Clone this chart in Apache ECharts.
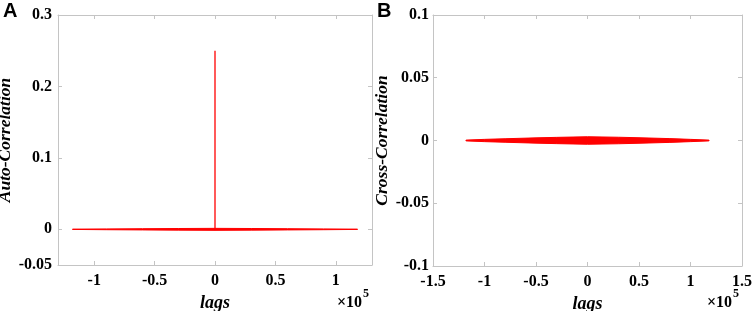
<!DOCTYPE html>
<html>
<head>
<meta charset="utf-8">
<script src="https://cdn.jsdelivr.net/npm/echarts@6/dist/echarts.min.js"></script>
<style>html,body{margin:0;padding:0;background:#fff}#c{width:754px;height:311px}</style>
</head>
<body>
<div id="c"></div>
<script>
// ---- Panel A: auto-correlation ----
const lagTicksA = [-100000, -50000, 0, 50000, 100000];
const yTicksA = [-0.05, 0, 0.1, 0.2, 0.3];
const spikeLags = [0, 0];
const spikeValues = [0, 0.25];
const envLagsA = [-118000, -90000, -60000, -30000, 0, 30000, 60000, 90000, 118000];
const envUpperA = [0.0002, 0.0005, 0.0008, 0.0011, 0.0013, 0.0011, 0.0008, 0.0005, 0.0002];
const envLowerA = [-0.0002, -0.0006, -0.0009, -0.0012, -0.0015, -0.0012, -0.0009, -0.0006, -0.0002];

// ---- Panel B: cross-correlation ----
const lagTicksB = [-150000, -100000, -50000, 0, 50000, 100000, 150000];
const yTicksB = [-0.1, -0.05, 0, 0.05, 0.1];
const envLagsB = [-118000, -100000, -80000, -50000, -30000, 0, 30000, 50000, 80000, 100000, 118000];
const envUpperB = [0.0003, 0.0009, 0.0014, 0.0021, 0.0025, 0.0030, 0.0026, 0.0022, 0.0015, 0.0009, 0.0003];
const envLowerB = [-0.0003, -0.0009, -0.0014, -0.0021, -0.0025, -0.0030, -0.0026, -0.0022, -0.0015, -0.0009, -0.0003];

const RED = '#ff0000';
const BOX = '#c4c4c4';
const labelFont = {color: '#000', fontFamily: 'Liberation Serif', fontWeight: 'bold', fontSize: 16};
const nameFontX = {color: '#000', fontFamily: 'Liberation Serif', fontWeight: 'bold', fontStyle: 'italic', fontSize: 18};
const nameFontY = {color: '#000', fontFamily: 'Liberation Serif', fontWeight: 'bold', fontStyle: 'italic', fontSize: 17.5};

function fmtLag(v) { return String(Math.round(v / 1000) / 100); }
function fmtY(v) { return String(Math.round(v * 1000) / 1000); }

function xAxes(gi, min, max, ticks) {
  return [
    {type: 'value', gridIndex: gi, position: 'bottom', min: min, max: max,
     name: 'lags', nameLocation: 'middle', nameGap: 21, nameTextStyle: nameFontX,
     axisLine: {show: true, onZero: false, lineStyle: {color: BOX, width: 1}},
     axisTick: {show: true, inside: true, length: 4, customValues: ticks, lineStyle: {color: BOX}},
     axisLabel: {show: true, margin: 8, customValues: ticks, formatter: fmtLag, ...labelFont},
     splitLine: {show: false}},
    {type: 'value', gridIndex: gi, position: 'top', min: min, max: max,
     axisLine: {show: true, onZero: false, lineStyle: {color: BOX, width: 1}},
     axisTick: {show: true, inside: true, length: 4, customValues: ticks, lineStyle: {color: BOX}},
     axisLabel: {show: false}, splitLine: {show: false}}
  ];
}
function yAxes(gi, min, max, ticks, name, gap, margin) {
  return [
    {type: 'value', gridIndex: gi, position: 'left', min: min, max: max,
     name: name, nameLocation: 'middle', nameGap: gap, nameTextStyle: nameFontY,
     axisLine: {show: true, onZero: false, lineStyle: {color: BOX, width: 1}},
     axisTick: {show: true, inside: true, length: 4, customValues: ticks, lineStyle: {color: BOX}},
     axisLabel: {show: true, margin: margin, customValues: ticks, formatter: fmtY, ...labelFont},
     splitLine: {show: false}},
    {type: 'value', gridIndex: gi, position: 'right', min: min, max: max,
     axisLine: {show: true, onZero: false, lineStyle: {color: BOX, width: 1}},
     axisTick: {show: true, inside: true, length: 4, customValues: ticks, lineStyle: {color: BOX}},
     axisLabel: {show: false}, splitLine: {show: false}}
  ];
}

function bandSeries(xi, yi, lags, up, lo) {
  return {
    type: 'custom', xAxisIndex: xi, yAxisIndex: yi, clip: true,
    data: [[lags[0], up[0]]],
    renderItem: function (params, api) {
      const pts = [];
      for (let i = 0; i < lags.length; i++) pts.push(api.coord([lags[i], up[i]]));
      for (let i = lags.length - 1; i >= 0; i--) pts.push(api.coord([lags[i], lo[i]]));
      return {type: 'polygon', shape: {points: pts},
              style: {fill: RED, stroke: RED, lineWidth: 1}};
    },
    silent: true
  };
}

const option = {
  backgroundColor: '#fff',
  animation: false,
  color: [RED],
  grid: [
    {left: 58, right: 382, top: 15, bottom: 46, containLabel: false, outerBoundsMode: 'none'},
    {left: 433, right: 12, top: 15, bottom: 45, containLabel: false, outerBoundsMode: 'none'}
  ],
  xAxis: [...xAxes(0, -130000, 130000, lagTicksA), ...xAxes(1, -150000, 150000, lagTicksB)],
  yAxis: [...yAxes(0, -0.05, 0.3, yTicksA, 'Auto-Correlation', 36, 6),
          ...yAxes(1, -0.1, 0.1, yTicksB, 'Cross-Correlation', 38, 4)],
  series: [
    bandSeries(0, 0, envLagsA, envUpperA, envLowerA),
    {type: 'line', xAxisIndex: 0, yAxisIndex: 0, showSymbol: false, symbol: 'none',
     color: RED, itemStyle: {color: RED},
     data: spikeLags.map((x, i) => [x, spikeValues[i]]),
     lineStyle: {color: RED, width: 1.3}, silent: true},
    bandSeries(2, 2, envLagsB, envUpperB, envLowerB)
  ],
  graphic: [
    {type: 'text', left: 3, top: 1, style: {text: 'A', font: 'bold 20px "Liberation Sans"', fill: '#000'}},
    {type: 'text', left: 377, top: 1, style: {text: 'B', font: 'bold 20px "Liberation Sans"', fill: '#000'}},
    {type: 'text', left: 337, top: 295, style: {text: '×10', font: 'bold 16px "Liberation Serif"', fill: '#000'}},
    {type: 'text', left: 363, top: 288, style: {text: '5', font: 'bold 12px "Liberation Serif"', fill: '#000'}},
    {type: 'text', left: 707, top: 295, style: {text: '×10', font: 'bold 16px "Liberation Serif"', fill: '#000'}},
    {type: 'text', left: 733, top: 288, style: {text: '5', font: 'bold 12px "Liberation Serif"', fill: '#000'}}
  ]
};
const chart = echarts.init(document.getElementById('c'), null, {renderer: 'canvas'});
chart.setOption(option);
</script>
</body>
</html>
